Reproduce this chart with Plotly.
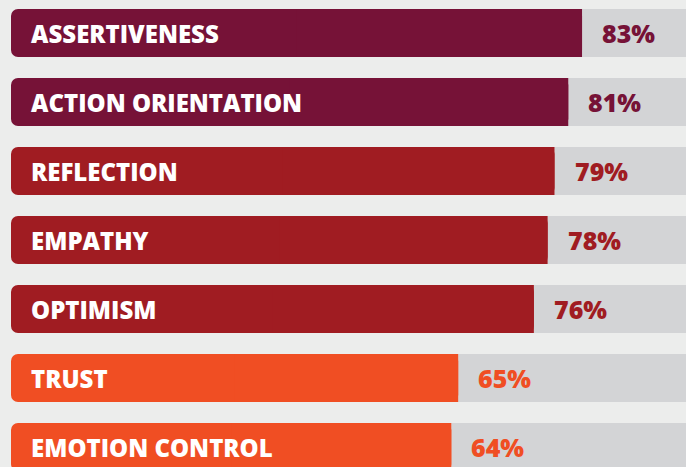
import plotly.graph_objects as go

categories = ["ASSERTIVENESS", "ACTION ORIENTATION", "REFLECTION", "EMPATHY",
              "OPTIMISM", "TRUST", "EMOTION CONTROL"]
values = [83, 81, 79, 78, 76, 65, 64]
labels = ["83%", "81%", "79%", "78%", "76%", "65%", "64%"]
bar_colors = ["#761237", "#761237", "#A01C22", "#A01C22", "#A01C22", "#F04E23", "#F04E23"]

W, H = 686, 467
px_per_unit = 6.88
x0_px = 11
pitch = 69.0
c0 = 33.0

xr = [-x0_px / px_per_unit, (W - x0_px) / px_per_unit]
yr = [(H - c0) / pitch, -c0 / pitch]

idx = list(range(len(categories)))
bw = 48 / pitch
fig = go.Figure()
# gray remainder bars
fig.add_trace(go.Bar(
    y=idx, x=[100 - v for v in values], base=values, orientation="h",
    marker=dict(color="#D3D4D6", line=dict(width=0)), width=bw,
    hoverinfo="skip", showlegend=False))
# colored bars with rounded corners
fig.add_trace(go.Bar(
    y=idx, x=values, base=[0] * len(values), orientation="h",
    marker=dict(color=bar_colors, line=dict(width=0), cornerradius=7),
    width=bw, hoverinfo="skip", showlegend=False))
# square right half to keep the right end straight
fig.add_trace(go.Bar(
    y=idx, x=[v / 2 for v in values], base=[v / 2 for v in values], orientation="h",
    marker=dict(color=bar_colors, line=dict(width=0)),
    width=bw, hoverinfo="skip", showlegend=False))

for i, (cat, v, lab, col) in enumerate(zip(categories, values, labels, bar_colors)):
    fig.add_annotation(x=0, y=i, text=cat, xanchor="left", yanchor="middle",
                       xshift=18, showarrow=False,
                       font=dict(family="Open Sans", size=24, color="white", weight=800))
    fig.add_annotation(x=v, y=i, text=lab, xanchor="left", yanchor="middle",
                       xshift=18, showarrow=False,
                       font=dict(family="Open Sans", size=25, color=col, weight=800))

fig.update_layout(
    width=W, height=H, margin=dict(l=0, r=0, t=0, b=0),
    paper_bgcolor="#ECEDEC", plot_bgcolor="#ECEDEC",
    barmode="overlay",
    xaxis=dict(range=xr, visible=False, fixedrange=True),
    yaxis=dict(range=yr, visible=False, fixedrange=True),
)
fig.write_html("out.html")
